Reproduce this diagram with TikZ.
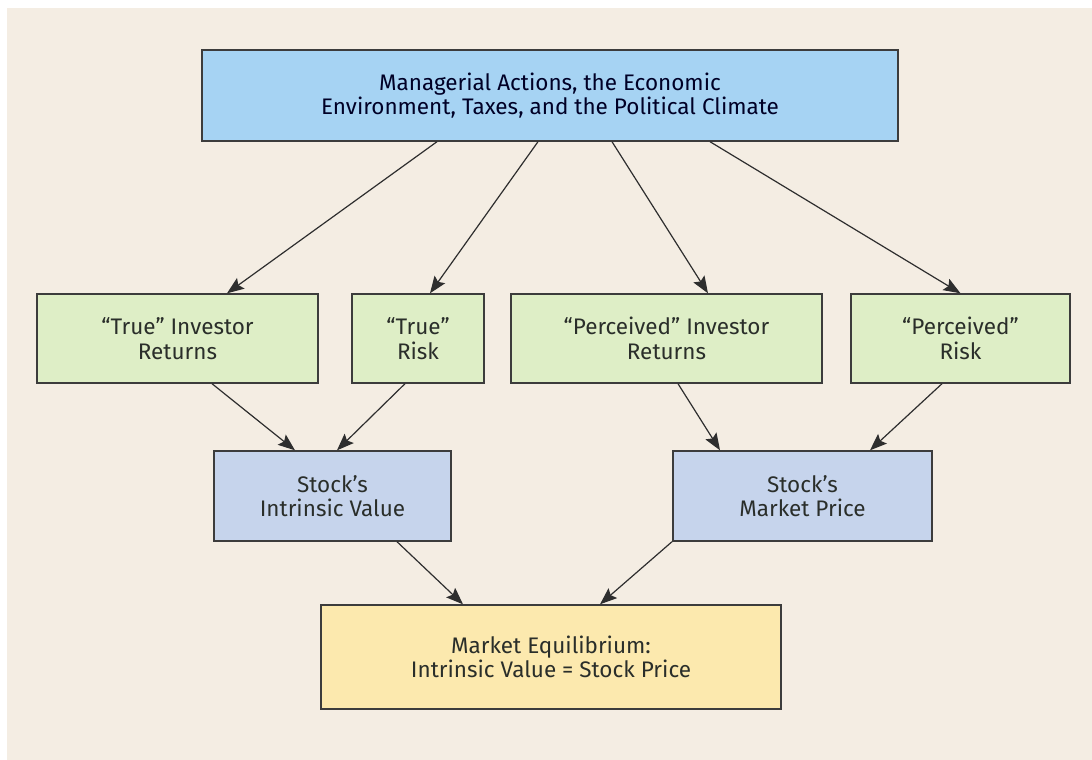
\documentclass[tikz,border=0pt]{standalone}
\usepackage{fontspec}
\setmainfont{Fira Sans}
\usetikzlibrary{arrows.meta}
\definecolor{bgc}{HTML}{F4EDE3}
\definecolor{topc}{HTML}{A6D3F3}
\definecolor{greenc}{HTML}{DEEEC6}
\definecolor{bluec}{HTML}{C6D4EC}
\definecolor{yellowc}{HTML}{FCE9AE}
\definecolor{bordc}{HTML}{3C3C3C}
\definecolor{arrc}{HTML}{2E2E2E}
\definecolor{txtc}{HTML}{2A2E2A}
\begin{document}
\begin{tikzpicture}[x=1pt,y=-1pt,
  box/.style={draw=bordc, line width=1.4pt, inner sep=0pt, align=center,
    text=txtc, font=\fontsize{22.5}{24.5}\selectfont},
  arr/.style={draw=arrc, line width=1.2pt, -{Stealth[length=17pt,width=13pt,inset=3pt]}}]
\fill[white] (0,0) rectangle (1092,760);
\fill[bgc] (7,8) rectangle (1092,760);
\useasboundingbox (0,0) rectangle (1092,760);

\node[box, fill=topc, text=black!85!blue, minimum width=696pt, minimum height=91pt] (top) at (550,95.5)
  {Managerial Actions, the Economic\\Environment, Taxes, and the Political Climate};

\node[box, fill=greenc, minimum width=281pt, minimum height=89pt] (t1) at (177.5,338.5)
  {“True” Investor\\Returns};
\node[box, fill=greenc, minimum width=132pt, minimum height=89pt] (t2) at (418,338.5)
  {“True”\\Risk};
\node[box, fill=greenc, minimum width=311pt, minimum height=89pt] (t3) at (666.5,338.5)
  {“Perceived” Investor\\Returns};
\node[box, fill=greenc, minimum width=219pt, minimum height=89pt] (t4) at (960.5,338.5)
  {“Perceived”\\Risk};

\node[box, fill=bluec, minimum width=237pt, minimum height=90pt] (iv) at (332.5,496)
  {Stock’s\\Intrinsic Value};
\node[box, fill=bluec, minimum width=259pt, minimum height=90pt] (mp) at (802.5,496)
  {Stock’s\\Market Price};

\node[box, fill=yellowc, minimum width=460pt, minimum height=104pt] (eq) at (551,657)
  {Market Equilibrium:\\Intrinsic Value = Stock Price};

\draw[arr] ([xshift=-113pt]top.south) -- ([xshift=49.5pt]t1.north);
\draw[arr] ([xshift=-12pt]top.south) -- ([xshift=12pt]t2.north);
\draw[arr] ([xshift=62pt]top.south) -- ([xshift=41.5pt]t3.north);
\draw[arr] ([xshift=160pt]top.south) -- ([xshift=0pt]t4.north);

\draw[arr] ([xshift=34.5pt]t1.south) -- ([xshift=-37.5pt]iv.north);
\draw[arr] ([xshift=-13pt]t2.south) -- ([xshift=4.5pt]iv.north);
\draw[arr] ([xshift=11.5pt]t3.south) -- ([xshift=-82.5pt]mp.north);
\draw[arr] ([xshift=-18.5pt]t4.south) -- ([xshift=67.5pt]mp.north);

\draw[arr] ([xshift=64.5pt]iv.south) -- ([xshift=-88pt]eq.north);
\draw[arr] ([xshift=-130.5pt]mp.south) -- ([xshift=49pt]eq.north);
\end{tikzpicture}
\end{document}
